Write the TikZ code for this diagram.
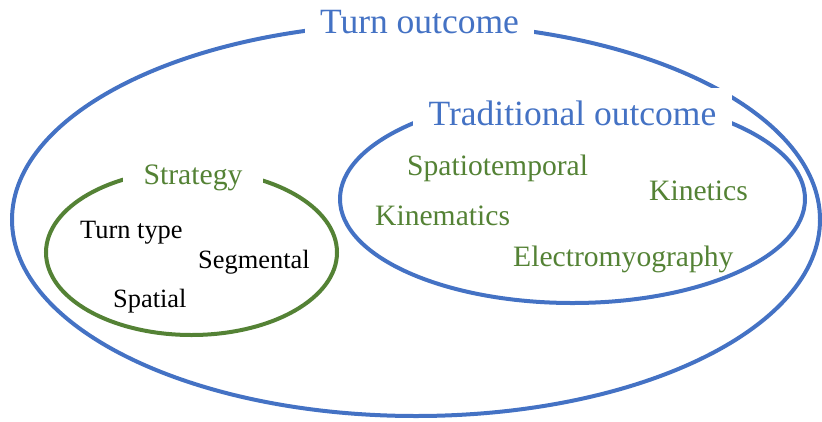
\documentclass[tikz,border=0pt]{standalone}
\usepackage{fontspec}
\setmainfont{Liberation Serif}
\definecolor{myblue}{HTML}{4472C4}
\definecolor{mygreen}{HTML}{548235}
\tikzset{
  blueline/.style={draw=myblue, line width=4pt},
  greenline/.style={draw=mygreen, line width=4pt},
  titlebig/.style={fill=white, text=myblue, anchor=base, inner ysep=6pt, font=\fontsize{35.5}{40}\selectfont},
  titlegreen/.style={fill=white, text=mygreen, anchor=base, inner ysep=6pt, inner xsep=21pt, font=\fontsize{29.7}{34}\selectfont},
  greenitem/.style={text=mygreen, anchor=base west, inner sep=0pt, font=\fontsize{29.6}{34}\selectfont},
  blackitem/.style={text=black, anchor=base west, inner sep=0pt, font=\fontsize{26.4}{30}\selectfont},
}
\begin{document}
\begin{tikzpicture}[x=1pt, y=-1pt]
\useasboundingbox (0,0) rectangle (822,421);
% ellipses
\draw[blueline] (416,219.7) ellipse [x radius=404, y radius=196.3];
\draw[blueline] (572.5,199) ellipse [x radius=232.5, y radius=104];
\draw[greenline] (191.5,252.5) ellipse [x radius=145.5, y radius=82.5];
% titles
\node[titlebig, inner xsep=15pt] (turn) at (419.5,33) {Turn outcome};
\node[titlebig, inner xsep=16pt, inner ysep=12pt] (trad) at (572.5,125) {Traditional outcome};
\node[titlegreen] (strat) at (193,184) {Strategy};
% strategy items
\node[blackitem] (tt) at (80,238) {Turn type};
\node[blackitem] (seg) at (198,268) {Segmental};
\node[blackitem] (spa) at (113,307) {Spatial};
% traditional items
\node[greenitem] (st) at (407,175) {Spatiotemporal};
\node[greenitem] (kin) at (649,200) {Kinetics};
\node[greenitem] (kmt) at (375,225) {Kinematics};
\node[greenitem] (emg) at (513,266) {Electromyography};
\end{tikzpicture}
\end{document}
